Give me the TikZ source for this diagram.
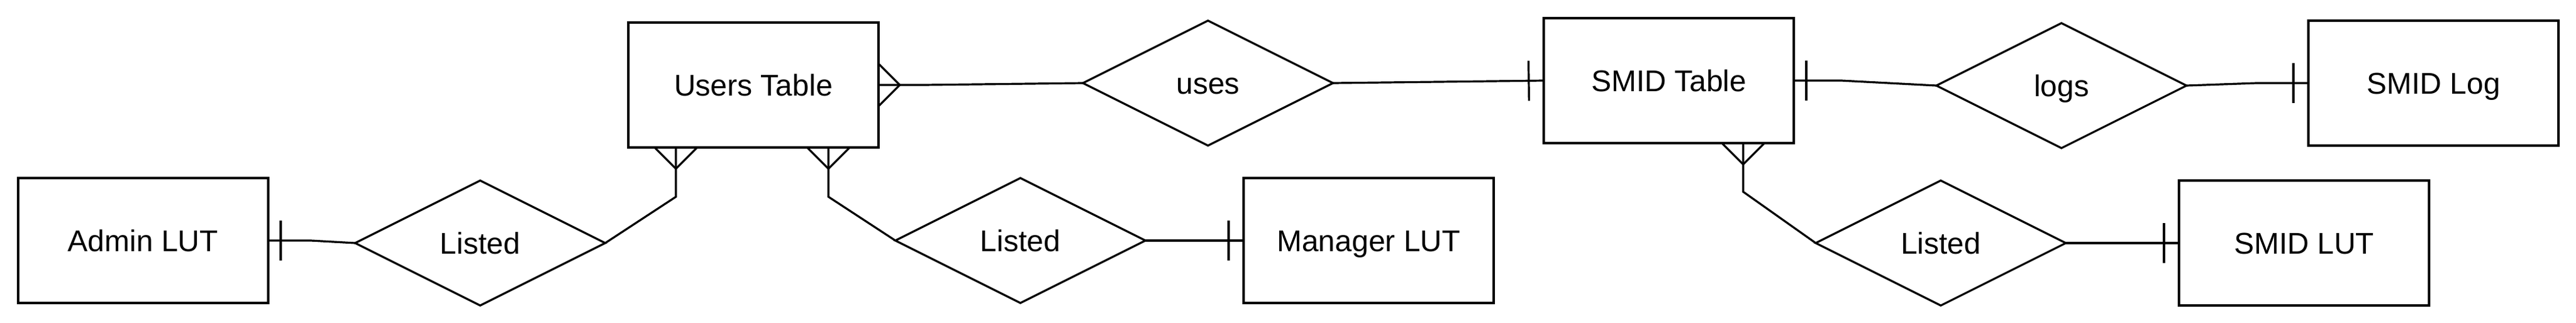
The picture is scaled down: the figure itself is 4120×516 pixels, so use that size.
\documentclass[tikz,border=0pt]{standalone}
\usepackage{fontspec}
\setmainfont{Liberation Sans}
\usetikzlibrary{shapes.geometric, calc, decorations.markings}

\begin{document}
\begin{tikzpicture}[
    x=0.1875pt, y=-0.1875pt,
    font=\fontsize{9pt}{10.8pt}\selectfont,
    entity/.style={draw, line width=0.6pt, minimum width=75pt, minimum height=37.5pt, inner sep=0pt, outer sep=0pt, text height=6.4pt, text depth=0pt},
    relation/.style={draw, diamond, shape aspect=2, line width=0.6pt, minimum width=75pt, minimum height=37.5pt, inner sep=0pt, outer sep=0pt, text height=6.4pt, text depth=0pt},
    link/.style={line width=0.6pt},
    one at start/.style={postaction={decorate, decoration={markings, mark=at position 3.75pt with {\draw[line width=0.6pt] (0,-32) -- (0,32);}}}},
    one at end/.style={postaction={decorate, decoration={markings, mark=at position -4.5pt with {\draw[line width=0.6pt] (0,-32) -- (0,32);}}}},
    many at start/.style={postaction={decorate, decoration={markings, mark=at position 0.01pt with {\draw[line width=0.6pt] (0,-34) -- (34,0) -- (0,34);}}}}
]
    \useasboundingbox (0,0) rectangle (4120,516);

    % Entities
    \node[entity] (admin) at (229,385) {Admin LUT};
    \node[entity] (users) at (1205,136) {Users Table};
    \node[entity] (manager) at (2189,385) {Manager LUT};
    \node[entity] (smid) at (2669,129) {SMID Table};
    \node[entity] (smidlog) at (3892,133) {SMID Log};
    \node[entity] (smidlut) at (3685,389) {SMID LUT};

    % Relationships
    \node[relation] (listedadmin) at (768,389) {Listed};
    \node[relation] (listedmanager) at (1632,385) {Listed};
    \node[relation] (uses) at (1932,133) {uses};
    \node[relation] (logs) at (3297,137) {logs};
    \node[relation] (listedsmid) at (3104,389) {Listed};

    % Connectors
    \draw[link, one at start] (admin.east) -- ++(68,0) -- (listedadmin.west);
    \draw[link, many at start] ($(users.south)+(-124,0)$) -- ++(0,79) -- (listedadmin.east);
    \draw[link, many at start] ($(users.south)+(120,0)$) -- ++(0,79) -- (listedmanager.west);
    \draw[link, one at end] (listedmanager.east) -- (manager.west);
    \draw[link, many at start] (users.east) -- ++(72,0) -- (uses.west);
    \draw[link, one at end] (uses.east) -- (smid.west);
    \draw[link, one at start] (smid.east) -- ++(76,0) -- (logs.west);
    \draw[link, one at end] (logs.east) -- ($(smidlog.west)+(-83,0)$) -- (smidlog.west);
    \draw[link, many at start] ($(smid.south)+(119,0)$) -- ++(0,78) -- (listedsmid.west);
    \draw[link, one at end] (listedsmid.east) -- (smidlut.west);
\end{tikzpicture}
\end{document}
